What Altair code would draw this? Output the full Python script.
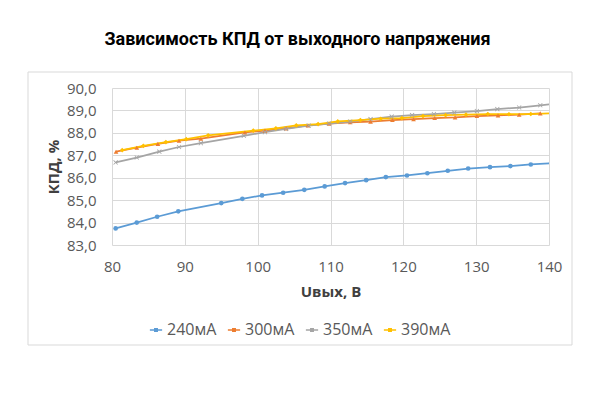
import altair as alt
import pandas as pd

series = ["240мА", "300мА", "350мА", "390мА"]
colors = ["#5b9bd5", "#ed7d31", "#a5a5a5", "#ffc000"]

u240 = [80.5, 83.4, 86.2, 89.1, 95.0, 97.9, 100.6, 103.5, 106.4, 109.2, 112.0,
        114.9, 117.6, 120.5, 123.3, 126.1, 128.9, 131.9, 134.7, 137.5, 140.3]
e240 = [83.74, 84.00, 84.26, 84.50, 84.87, 85.06, 85.21, 85.33, 85.46, 85.61, 85.76,
        85.89, 86.03, 86.10, 86.20, 86.31, 86.41, 86.47, 86.52, 86.59, 86.65]

u300 = [80.55, 83.4, 86.3, 89.2, 92.2, 98.25, 101.0, 103.9, 106.9, 109.8, 112.7,
        115.5, 118.5, 121.4, 124.3, 127.1, 130.1, 133.0, 135.9, 138.8]
e300 = [87.16, 87.34, 87.51, 87.65, 87.74, 88.02, 88.10, 88.20, 88.33, 88.41, 88.47,
        88.50, 88.57, 88.61, 88.66, 88.69, 88.75, 88.78, 88.81, 88.87]

u350 = [80.5, 83.4, 86.5, 89.2, 92.2, 98.1, 101.0, 103.9, 107.0, 109.8, 112.7,
        115.5, 118.4, 121.2, 124.2, 127.0, 130.1, 132.9, 135.9, 138.8, 140.5]
e350 = [86.68, 86.90, 87.16, 87.37, 87.54, 87.87, 88.03, 88.18, 88.32, 88.41, 88.50,
        88.61, 88.72, 88.79, 88.84, 88.90, 88.97, 89.06, 89.13, 89.23, 89.28]

u390 = [81.4, 84.3, 87.4, 90.2, 93.2, 99.4, 102.5, 105.3, 108.3, 111.0, 114.1,
        116.9, 119.8, 122.7, 125.8, 128.6, 131.6, 134.5, 137.5, 140.3]
e390 = [87.23, 87.42, 87.59, 87.72, 87.89, 88.10, 88.20, 88.33, 88.39, 88.51, 88.57,
        88.63, 88.66, 88.75, 88.79, 88.81, 88.84, 88.83, 88.84, 88.87]

x_ticks = [80, 90, 100, 110, 120, 130, 140]
y_ticks = [83, 84, 85, 86, 87, 88, 89, 90]

rows = []
for name, us, es in zip(series, [u240, u300, u350, u390], [e240, e300, e350, e390]):
    for u, e in zip(us, es):
        rows.append({"series": name, "U": u, "E": e})
df = pd.DataFrame(rows)

XPATH = ("M-1,-0.75L-0.75,-1L0,-0.25L0.75,-1L1,-0.75L0.25,0L1,0.75L0.75,1"
         "L0,0.25L-0.75,1L-1,0.75L-0.25,0Z")
shapes = ["circle", "triangle-up", XPATH, "diamond"]

FONT = "Open Sans"

x = alt.X("U:Q",
          scale=alt.Scale(domain=[80, 140], nice=False, zero=False),
          axis=alt.Axis(values=x_ticks, title="Uвых, В", labelPadding=14,
                        labelFlush=False, titlePadding=10, tickSize=0))
y = alt.Y("E:Q",
          scale=alt.Scale(domain=[83, 90], nice=False, zero=False),
          axis=alt.Axis(values=y_ticks, title="КПД, %", tickSize=0, labelPadding=16,
                        labelFlush=False, titlePadding=5,
                        labelExpr="replace(format(datum.value, '.1f'), '.', ',')"))

frame = alt.Chart(pd.DataFrame({"a": [0]})).mark_rect(
    fillOpacity=0, stroke="#d9d9d9", strokeWidth=1
).encode(x=alt.value(-84), x2=alt.value(460), y=alt.value(-16), y2=alt.value(257))

lines = alt.Chart(df).mark_line(strokeWidth=1.75, clip=True).encode(
    x=x, y=y,
    color=alt.Color("series:N", scale=alt.Scale(domain=series, range=colors),
                    legend=alt.Legend(
                        title=None, orient="none", direction="horizontal",
                        legendX=36, legendY=234, columnPadding=7,
                        symbolType="M-1,0H1M-0.2,-0.2H0.2V0.2H-0.2Z",
                        symbolSize=150, symbolStrokeWidth=1.5,
                        labelFontSize=16, labelFont=FONT, labelColor="#595959",
                        labelOffset=3)),
)

points = alt.Chart(df).mark_point(filled=True, size=22, opacity=1, clip=True).encode(
    x=x, y=y,
    color=alt.Color("series:N", scale=alt.Scale(domain=series, range=colors), legend=None),
    shape=alt.Shape("series:N", scale=alt.Scale(domain=series, range=shapes), legend=None),
)

chart = alt.layer(frame, lines, points).resolve_scale(
    color="independent", shape="independent"
).resolve_legend(color="independent", shape="independent").properties(
    width=437, height=157,
    autosize="none",
    padding={"left": 104, "top": 80, "right": 30, "bottom": 120},
    background="white",
    title=alt.Title("Зависимость КПД от выходного напряжения", font="Roboto",
                    fontSize=18, fontWeight="bold", color="#000000",
                    anchor="middle", frame="group", offset=23, dx=-33),
).configure_view(stroke=None).configure_axis(
    gridColor="#d9d9d9", gridWidth=1, domain=False, ticks=False,
    labelFont=FONT, labelFontSize=15, labelColor="#595959",
    titleFont=FONT, titleFontSize=15, titleFontWeight="bold", titleColor="#404040",
)

chart.save("out.html", embed_options={"renderer": "svg", "actions": False})
